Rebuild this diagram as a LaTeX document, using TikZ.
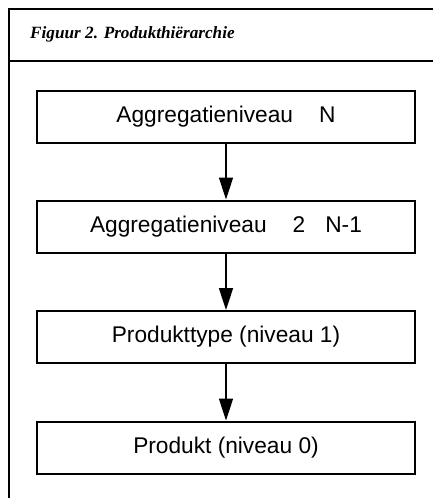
\documentclass[tikz,border=0pt]{standalone}
\usepackage{fontspec}
\setmainfont{Liberation Sans}
\newfontfamily\headfont{Liberation Serif}
\usetikzlibrary{arrows.meta}
\tikzset{
  levelbox/.style={draw=black, line width=2pt, minimum width=378pt, minimum height=52pt, inner sep=0pt,
    font=\fontsize{22.7pt}{26pt}\selectfont},
  downarrow/.style={line width=1.6pt, -{Triangle[width=14pt,length=22pt]}},
  frameline/.style={line width=2pt}
}
\begin{document}
\begin{tikzpicture}[x=1pt,y=-1pt]
\useasboundingbox (0,0) rectangle (433,498);
\fill[white] (0,0) rectangle (433,498);
\draw[frameline] (433,9) -- (9,9) -- (9,498);
\draw[frameline] (9,61) -- (433,61);
\node[anchor=base west, inner sep=0pt, font=\headfont\bfseries\itshape\fontsize{17.2pt}{20pt}\selectfont] (title) at (30,38) {Figuur 2. Produkthiërarchie};
\node[levelbox] (b1) at (226,117) {Aggregatieniveau\hspace{26pt}N};
\node[levelbox] (b2) at (226,226.5) {Aggregatieniveau\hspace{26pt}2\hspace{20pt}N-1};
\node[levelbox] (b3) at (226,337) {Produkttype (niveau 1)};
\node[levelbox] (b4) at (226,447.5) {Produkt (niveau 0)};
\draw[downarrow] (b1.south) -- (b2.north);
\draw[downarrow] (b2.south) -- (b3.north);
\draw[downarrow] (b3.south) -- (b4.north);
\end{tikzpicture}
\end{document}
